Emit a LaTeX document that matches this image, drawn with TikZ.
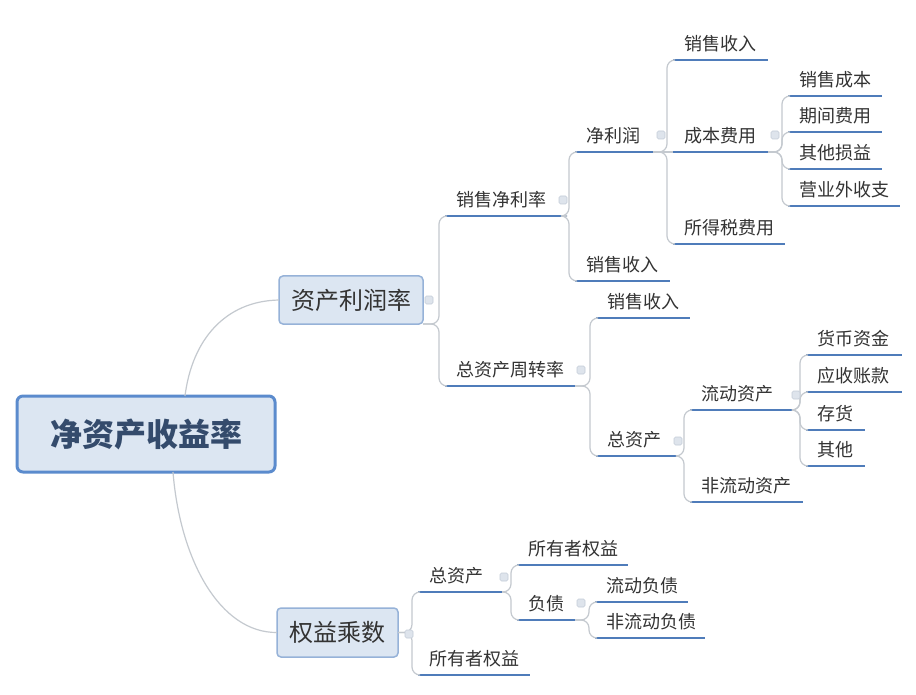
\documentclass[tikz,border=0pt]{standalone}
\usepackage{fontspec}
\setmainfont{Noto Sans CJK SC}
\definecolor{ulblue}{RGB}{79,124,186}
\definecolor{conngray}{RGB}{196,201,207}
\definecolor{boxfill}{RGB}{220,230,242}
\definecolor{rootborder}{RGB}{91,139,205}
\definecolor{boxborder}{RGB}{150,178,216}
\definecolor{roottext}{RGB}{52,75,108}
\definecolor{txt}{RGB}{51,51,51}
\definecolor{dotfill}{RGB}{222,228,236}
\definecolor{dotdraw}{RGB}{196,205,216}
\tikzset{
  leaf/.style={anchor=south west, font=\fontsize{18}{20}\selectfont, text=txt,
    inner xsep=11pt, inner ysep=5.2pt, text height=15pt, text depth=4pt,
    align=left, outer sep=0pt},
  ul/.style={draw=ulblue, line width=2.4pt},
  conn/.style={draw=conngray, line width=1.2pt, rounded corners=8pt},
  rootbox/.style={draw=rootborder, fill=boxfill, line width=3pt, rounded corners=6pt,
    minimum width=258pt, minimum height=76pt, text=roottext,
    font=\fontsize{32}{36}\selectfont\bfseries, outer sep=0pt},
  midbox/.style={draw=boxborder, fill=boxfill, line width=1.5pt, rounded corners=4pt,
    minimum height=48pt, inner xsep=12pt, text=txt,
    font=\fontsize{24}{28}\selectfont, outer sep=0pt},
  dotnode/.style={draw=dotdraw, fill=dotfill, line width=0.6pt, rounded corners=1.5pt,
    minimum size=8pt, inner sep=0pt}
}
\begin{document}
\begin{tikzpicture}[x=1pt,y=-1pt]
\useasboundingbox[fill=white] (0,0) rectangle (916,695);

% main boxes
\node[rootbox] (r) at (146,434) {净资产收益率};
\node[midbox, minimum width=144pt] (b1) at (351,300) {资产利润率};
\node[midbox, minimum width=121pt, minimum height=49pt] (b2) at (337.5,632.5) {权益乘数};

% leaves
\node[leaf, text width=100pt] (n1) at (445,216) {销售净利率};
\node[leaf, text width=108pt] (n2) at (445,386) {总资产周转率};
\node[leaf, text width=56pt] (n11) at (575,152) {净利润};
\node[leaf, text width=73pt] (n12) at (575,281) {销售收入};
\node[leaf, text width=73pt] (n111) at (673,60) {销售收入};
\node[leaf, text width=73pt] (n112) at (673,152) {成本费用};
\node[leaf, text width=90pt] (n113) at (673,244) {所得税费用};
\node[leaf, text width=72pt] (n1121) at (788,96) {销售成本};
\node[leaf, text width=72pt] (n1122) at (788,132) {期间费用};
\node[leaf, text width=72pt] (n1123) at (788,169) {其他损益};
\node[leaf, text width=90pt] (n1124) at (788,206) {营业外收支};
\node[leaf, text width=72pt] (n21) at (596,318) {销售收入};
\node[leaf, text width=60pt] (n22) at (596,456) {总资产};
\node[leaf, text width=83pt] (n221) at (690,410) {流动资产};
\node[leaf, text width=91pt] (n222) at (690,502) {非流动资产};
\node[leaf, text width=74pt] (n2211) at (806,355) {货币资金};
\node[leaf, text width=74pt] (n2212) at (806,392) {应收账款};
\node[leaf, text width=37pt] (n2213) at (806,430) {存货};
\node[leaf, text width=37pt] (n2214) at (806,466) {其他};
\node[leaf, text width=62pt] (m1) at (418,592) {总资产};
\node[leaf, text width=90pt] (m2) at (418,675) {所有者权益};
\node[leaf, text width=89pt] (m11) at (517,565) {所有者权益};
\node[leaf, text width=36pt] (m12) at (517,620) {负债};
\node[leaf, text width=71pt] (m121) at (595,602) {流动负债};
\node[leaf, text width=88pt] (m122) at (595,638) {非流动负债};

% underlines
\foreach \n in {n1,n2,n11,n12,n111,n112,n113,n1121,n1122,n1123,n1124,
  n21,n22,n221,n222,n2211,n2212,n2213,n2214,m1,m2,m11,m12,m121,m122}
  \draw[ul] (\n.south west) -- (\n.south east);

% root connectors
\draw[draw=conngray, line width=1.2pt] ([xshift=39pt]r.north) .. controls (192,340) and (225,301) .. (b1.west);
\draw[draw=conngray, line width=1.2pt] ([xshift=27pt]r.south) .. controls (180,560) and (220,633) .. (b2.west);

% branch connectors
\foreach \p/\c in {b1/n1,b1/n2,n1/n11,n1/n12,n11/n111,n11/n113,
  n112/n1121,n112/n1122,n112/n1123,n112/n1124,n2/n21,n2/n22,
  n22/n221,n22/n222,n221/n2211,n221/n2212,n221/n2213,n221/n2214,
  m1/m11,m1/m12,m12/m121,m12/m122}
  \draw[conn] (\p.south east) -| ([xshift=-6pt]\c.south west) -- (\c.south west);
\draw[conn] (n11.south east) -- (n112.south west);
\foreach \c in {m1,m2}
  \draw[conn] (b2.east) -| ([xshift=-6pt]\c.south west) -- (\c.south west);

% collapse markers
\node[dotnode] (d0) at (429,300) {};
\node[dotnode] (d00) at (409,634) {};
\node[dotnode] (d1) at (563,200) {};
\node[dotnode] (d2) at (661,135) {};
\node[dotnode] (d3) at (775,135) {};
\node[dotnode] (d4) at (581,370) {};
\node[dotnode] (d5) at (678,441) {};
\node[dotnode] (d6) at (796,395) {};
\node[dotnode] (d7) at (504,577) {};
\node[dotnode] (d8) at (581,603) {};
\end{tikzpicture}
\end{document}
